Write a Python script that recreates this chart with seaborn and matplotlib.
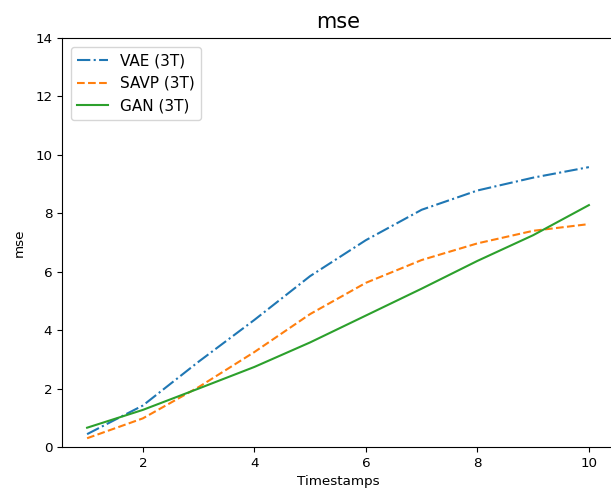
import matplotlib
matplotlib.use("Agg")
import matplotlib.pyplot as plt
import seaborn as sns
import pandas as pd

timestamps = [1, 2, 3, 4, 5, 6, 7, 8, 9, 10]
vae = [0.44, 1.42, 2.92, 4.35, 5.85, 7.08, 8.12, 8.78, 9.22, 9.58]
savp = [0.30, 0.98, 2.05, 3.25, 4.55, 5.62, 6.40, 6.97, 7.40, 7.63]
gan = [0.66, 1.27, 2.00, 2.74, 3.58, 4.50, 5.42, 6.37, 7.25, 8.28]
series_names = ["VAE (3T)", "SAVP (3T)", "GAN (3T)"]

df = pd.DataFrame({
    "Timestamps": timestamps * 3,
    "mse": vae + savp + gan,
    "model": [series_names[0]] * 10 + [series_names[1]] * 10 + [series_names[2]] * 10,
})

fig = plt.figure(figsize=(6.11, 4.93), dpi=100)
ax = fig.add_axes([62 / 611, 46 / 493, 552 / 611, 409 / 493])

styles = ["-.", "--", "-"]
colors = ["#1f77b4", "#ff7f0e", "#2ca02c"]
for name, ls, c in zip(series_names, styles, colors):
    sub = df[df["model"] == name]
    sns.lineplot(data=sub, x="Timestamps", y="mse", ax=ax, label=name,
                 linestyle=ls, color=c, linewidth=1.5)

ax.set_ylim(0, 14)
ax.set_xlim(0.55, 10.45)
ax.set_xticks([2, 4, 6, 8, 10])
ax.set_yticks([0, 2, 4, 6, 8, 10, 12, 14])
ax.tick_params(labelsize=9.7)
ax.set_xlabel("Timestamps", fontsize=9.7)
ax.set_ylabel("mse", fontsize=9.7, labelpad=7)
ax.set_title("mse", fontsize=15, pad=7)
ax.legend(loc="upper left", fontsize=11, borderaxespad=0.6)

fig.savefig("out.png", dpi=100)
